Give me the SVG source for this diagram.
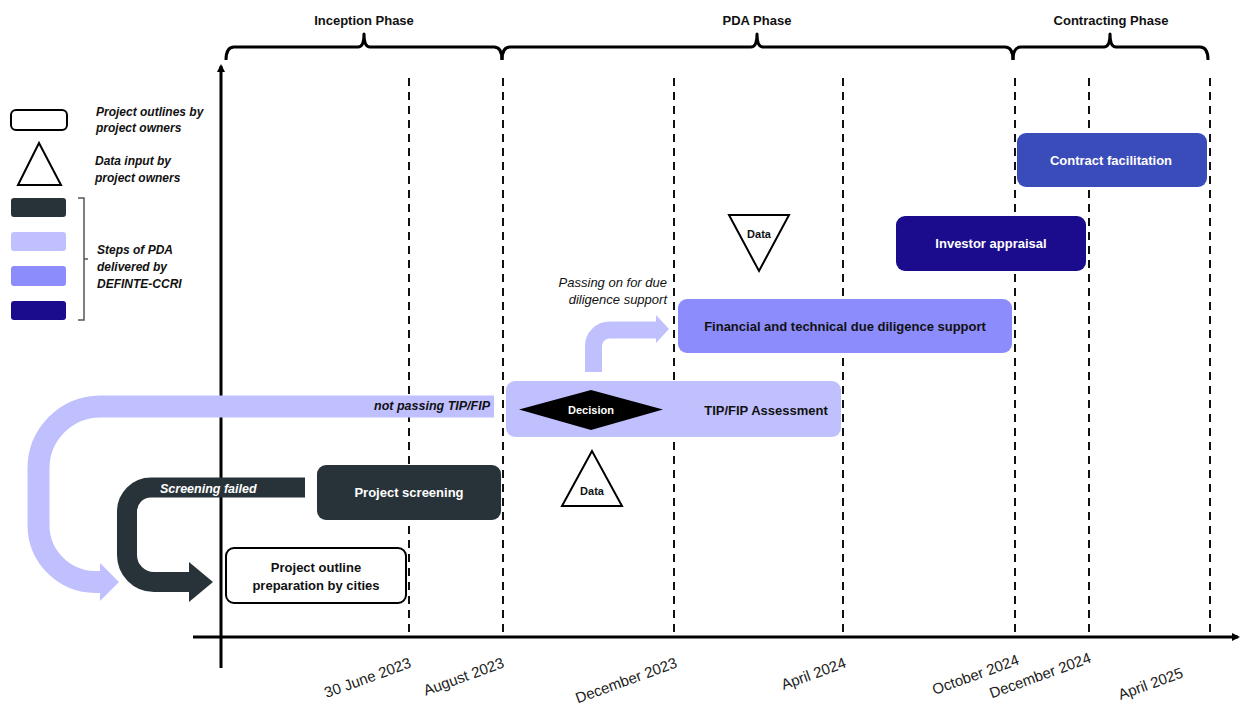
<svg xmlns="http://www.w3.org/2000/svg" width="1244" height="707" viewBox="0 0 1244 707">
<defs>
<style>
.phase{font-family:"Liberation Sans",Arial,sans-serif;font-weight:bold;font-size:13px;fill:#111;text-anchor:middle}
.date{font-family:"Liberation Sans",Arial,sans-serif;font-size:15px;fill:#222;text-anchor:end}
.leg{font-family:"Liberation Sans",Arial,sans-serif;font-weight:bold;font-style:italic;font-size:12px;fill:#111}
.lbl{font-family:"Liberation Sans",Arial,sans-serif;font-weight:bold;font-size:13px;text-anchor:middle}
.w{fill:#fff}
.k{fill:#111}
.it{font-family:"Liberation Sans",Arial,sans-serif;font-weight:bold;font-style:italic;font-size:12.5px}
.itn{font-family:"Liberation Sans",Arial,sans-serif;font-style:italic;font-size:13px;fill:#111;text-anchor:end}
.sm{font-family:"Liberation Sans",Arial,sans-serif;font-weight:bold;font-size:11px;text-anchor:middle}
.dash{stroke:#111;stroke-width:2;stroke-dasharray:8 6;fill:none}
.brace{stroke:#000;stroke-width:3;fill:none;stroke-linejoin:round}
.tri{fill:#fff;stroke:#000;stroke-width:2}
</style>
<marker id="ah" markerWidth="8" markerHeight="8" refX="6" refY="4" orient="auto" markerUnits="userSpaceOnUse">
<path d="M0,0 L8,4 L0,8 z" fill="#000"/>
</marker>
</defs>
<rect width="1244" height="707" fill="#fff"/>

<!-- phase braces -->
<g id="phases">
<path class="brace" d="M226 60 Q226 47 234 47 H358 Q364 47 364 34 Q364 47 370 47 H494 Q502 47 502 60"/>
<path class="brace" d="M502 60 Q502 47 510 47 H751 Q757 47 757 34 Q757 47 763 47 H1005 Q1013 47 1013 60"/>
<path class="brace" d="M1013 60 Q1013 47 1021 47 H1104 Q1110 47 1110 34 Q1110 47 1116 47 H1200 Q1208 47 1208 60"/>
<text class="phase" x="364" y="25">Inception Phase</text>
<text class="phase" x="757" y="25">PDA Phase</text>
<text class="phase" x="1111" y="25">Contracting Phase</text>
</g>

<!-- grid -->
<g id="grid">
<line class="dash" x1="409" y1="78" x2="409" y2="636"/>
<line class="dash" x1="503" y1="78" x2="503" y2="636"/>
<line class="dash" x1="674" y1="78" x2="674" y2="636"/>
<line class="dash" x1="843" y1="78" x2="843" y2="636"/>
<line class="dash" x1="1015" y1="78" x2="1015" y2="636"/>
<line class="dash" x1="1089" y1="78" x2="1089" y2="636"/>
<line class="dash" x1="1210" y1="78" x2="1210" y2="636"/>
</g>

<!-- axes -->
<g id="axes">
<line x1="193" y1="637" x2="1238" y2="637" stroke="#000" stroke-width="3" marker-end="url(#ah)"/>
<line x1="221" y1="668" x2="221" y2="66" stroke="#000" stroke-width="3" marker-end="url(#ah)"/>
<g class="date">
<text transform="translate(412 667) rotate(-20)">30 June 2023</text>
<text transform="translate(505 667) rotate(-20)">August 2023</text>
<text transform="translate(678 667) rotate(-20)">December 2023</text>
<text transform="translate(847 667) rotate(-20)">April 2024</text>
<text transform="translate(1020 664) rotate(-20)">October 2024</text>
<text transform="translate(1092 662) rotate(-20)">December 2024</text>
<text transform="translate(1184 677) rotate(-20)">April 2025</text>
</g>
</g>

<!-- legend -->
<g id="legend">
<rect x="11" y="110" width="56" height="20" rx="5" fill="#fff" stroke="#000" stroke-width="2"/>
<text class="leg" x="96" y="116">Project outlines by</text>
<text class="leg" x="96" y="132">project owners</text>
<polygon class="tri" points="39,143 18,185 61,185"/>
<text class="leg" x="95" y="165">Data input by</text>
<text class="leg" x="95" y="182">project owners</text>
<rect x="11" y="198" width="55" height="19" rx="3" fill="#283339"/>
<rect x="11" y="232" width="55" height="19" rx="3" fill="#c0c0ff"/>
<rect x="11" y="266" width="55" height="20" rx="3" fill="#8c8cfc"/>
<rect x="11" y="301" width="55" height="19" rx="3" fill="#1a0c8c"/>
<path d="M78 198 H84 V320 H78 M84 259 H88" stroke="#555" stroke-width="1.5" fill="none"/>
<text class="leg" x="97" y="254">Steps of PDA</text>
<text class="leg" x="97" y="271">delivered by</text>
<text class="leg" x="97" y="288">DEFINTE-CCRI</text>
</g>

<!-- connectors -->
<g id="connectors">
<path d="M494 406.5 H100 A62 62 0 0 0 38.5 468.5 V525 A57 57 0 0 0 95.5 582 H102" fill="none" stroke="#c0c0ff" stroke-width="22"/>
<polygon points="100,563 119,582 100,601" fill="#c0c0ff"/>
<text class="it k" x="490" y="410" text-anchor="end">not passing TIP/FIP</text>
<path d="M305 487.5 H151 A24 24 0 0 0 127 511.5 V555 A27 27 0 0 0 154 582 H191" fill="none" stroke="#283339" stroke-width="20"/>
<polygon points="189,562 213,582 189,602" fill="#283339"/>
<text class="it w" x="160" y="493" font-size="13">Screening failed</text>
<path d="M593.5 372 V346 A16 16 0 0 1 609.5 330 H658" fill="none" stroke="#c0c0ff" stroke-width="17"/>
<polygon points="656,315 669,329 656,343" fill="#c0c0ff"/>
<text class="itn" x="667" y="287">Passing on for due</text>
<text class="itn" x="667" y="304">diligence support</text>
</g>

<!-- nodes -->
<g id="contract">
<rect x="1017" y="133" width="190" height="54" rx="9" fill="#3a4bba"/>
<text class="lbl w" x="1111" y="165">Contract facilitation</text>
</g>
<g id="investor">
<rect x="896" y="216" width="190" height="55" rx="9" fill="#1a0c8c"/>
<text class="lbl w" x="991" y="248">Investor appraisal</text>
</g>
<g id="data2">
<polygon class="tri" points="729,215 789,215 759,271"/>
<text class="sm k" x="759" y="238">Data</text>
</g>
<g id="duediligence">
<rect x="678" y="299" width="334" height="54" rx="9" fill="#8c8cfc"/>
<text class="lbl k" x="845" y="331">Financial and technical due diligence support</text>
</g>
<g id="tipfip">
<rect x="506" y="381" width="335" height="56" rx="9" fill="#c0c0ff"/>
<text class="lbl k" x="766" y="415">TIP/FIP Assessment</text>
</g>
<g id="decision">
<polygon points="519,409.5 591,390 663,409.5 591,430" fill="#000"/>
<text class="sm w" x="591" y="413.5">Decision</text>
</g>
<g id="data1">
<polygon class="tri" points="592,451 562,506 622,506"/>
<text class="sm k" x="592" y="495">Data</text>
</g>
<g id="screening">
<rect x="317" y="465" width="184" height="55" rx="9" fill="#283339"/>
<text class="lbl w" x="409" y="497">Project screening</text>
</g>
<g id="outline">
<rect x="226" y="548" width="180" height="55" rx="8" fill="#fff" stroke="#000" stroke-width="2"/>
<text class="lbl k" x="316" y="572">Project outline</text>
<text class="lbl k" x="316" y="590">preparation by cities</text>
</g>
</svg>
